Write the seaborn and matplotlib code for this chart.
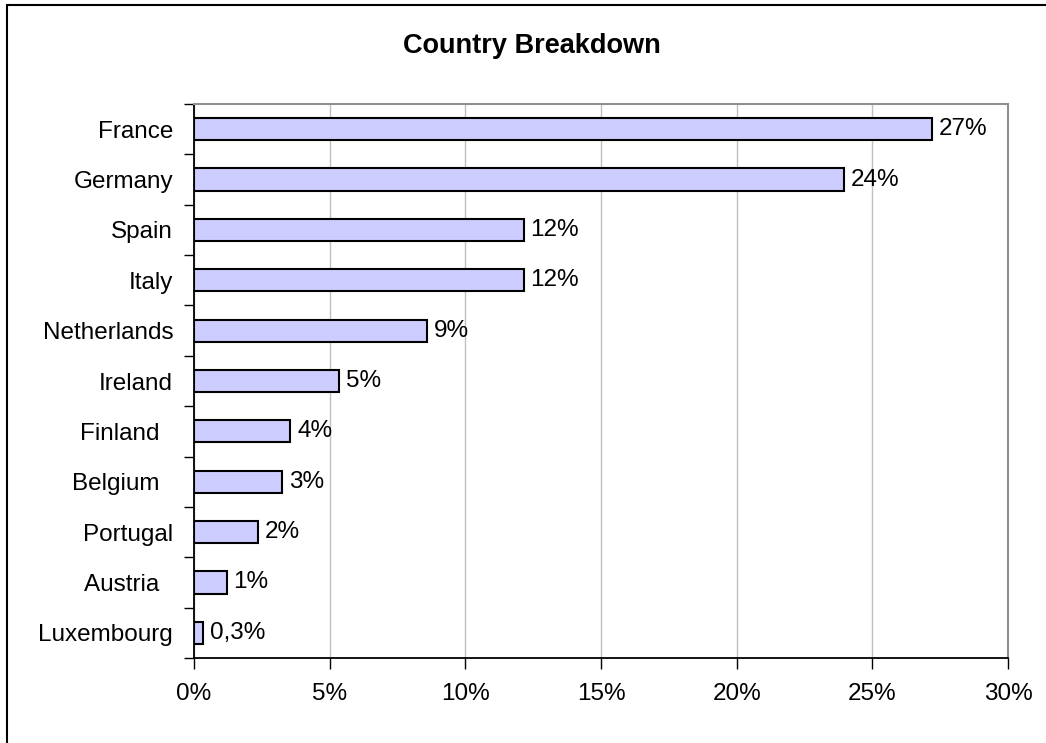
import matplotlib
matplotlib.use("Agg")
import matplotlib.pyplot as plt
import seaborn as sns
import pandas as pd
import numpy as np
from matplotlib.ticker import FixedLocator, FuncFormatter
from matplotlib.patches import Rectangle

countries = ["France", "Germany", "Spain", "Italy", "Netherlands", "Ireland",
             "Finland", "Belgium", "Portugal", "Austria", "Luxembourg"]
tick_labels = ["France", "Germany", "Spain", "Italy", "Netherlands", "Ireland",
               "Finland  ", "Belgium  ", "Portugal", "Austria  ", "Luxembourg"]
shares = [27.2, 23.95, 12.15, 12.15, 8.6, 5.35, 3.55, 3.25, 2.35, 1.2, 0.33]
value_labels = ["27%", "24%", "12%", "12%", "9%", "5%", "4%", "3%", "2%", "1%", "0,3%"]
x_ticks = [0, 5, 10, 15, 20, 25, 30]

sns.set_theme(style="white")
plt.rcParams['font.family'] = ['Liberation Sans', 'DejaVu Sans']
plt.rcParams['text.color'] = 'black'
plt.rcParams['xtick.color'] = 'black'
plt.rcParams['ytick.color'] = 'black'
plt.rcParams['xtick.labelcolor'] = 'black'
plt.rcParams['ytick.labelcolor'] = 'black'

W, H = 1046, 743
fig = plt.figure(figsize=(W / 100, H / 100), dpi=100)
fig.patch.set_facecolor("white")
ax = fig.add_axes([194 / W, 1 - 658 / H, (1008 - 194) / W, (658 - 104) / H])

df = pd.DataFrame({"country": countries, "share": shares})
sns.barplot(data=df, x="share", y="country", orient="h", color="#CCCCFF",
            saturation=1, edgecolor="black", linewidth=1.5, width=0.44, ax=ax)

ax.set_xlim(0, 30)
ax.set_ylim(10.5, -0.5)
ax.set_xlabel("")
ax.set_ylabel("")
ax.set_xticks(x_ticks)
ax.xaxis.set_major_formatter(FuncFormatter(lambda v, p: f"{v:.0f}%"))
ax.set_yticks(range(len(countries)))
ax.set_yticklabels(tick_labels)
ax.yaxis.set_minor_locator(FixedLocator(np.arange(-0.5, len(countries), 1)))

ax.tick_params(axis="x", which="major", bottom=True, length=8, width=1,
               color="black", labelcolor="black", direction="out", labelsize=17.5, pad=10)
ax.tick_params(axis="y", which="major", left=True, length=0, labelsize=17.5,
               labelcolor="black", pad=15)
ax.tick_params(axis="y", which="minor", left=True, length=7, width=1,
               color="black", direction="out")

ax.grid(axis="x", color="#c0c0c0", linewidth=1)
ax.set_axisbelow(True)

for s in ["left", "bottom"]:
    ax.spines[s].set_color("black")
    ax.spines[s].set_linewidth(1.3)
for s in ["top", "right"]:
    ax.spines[s].set_color("#909090")
    ax.spines[s].set_linewidth(1.5)

ax.bar_label(ax.containers[0], labels=value_labels, padding=5, fontsize=17.5,
             color="black")

fig.text(531.5 / W, 1 - 46 / H, "Country Breakdown", ha="center", va="center",
         fontsize=19.5, fontweight="bold", color="black")

fig.patches.append(Rectangle((7 / W, -0.05), 1.2, 1 - 5 / H + 0.05,
                             transform=fig.transFigure, fill=False,
                             edgecolor="black", linewidth=1.5))

fig.savefig("out.png", dpi=100, facecolor="white")
